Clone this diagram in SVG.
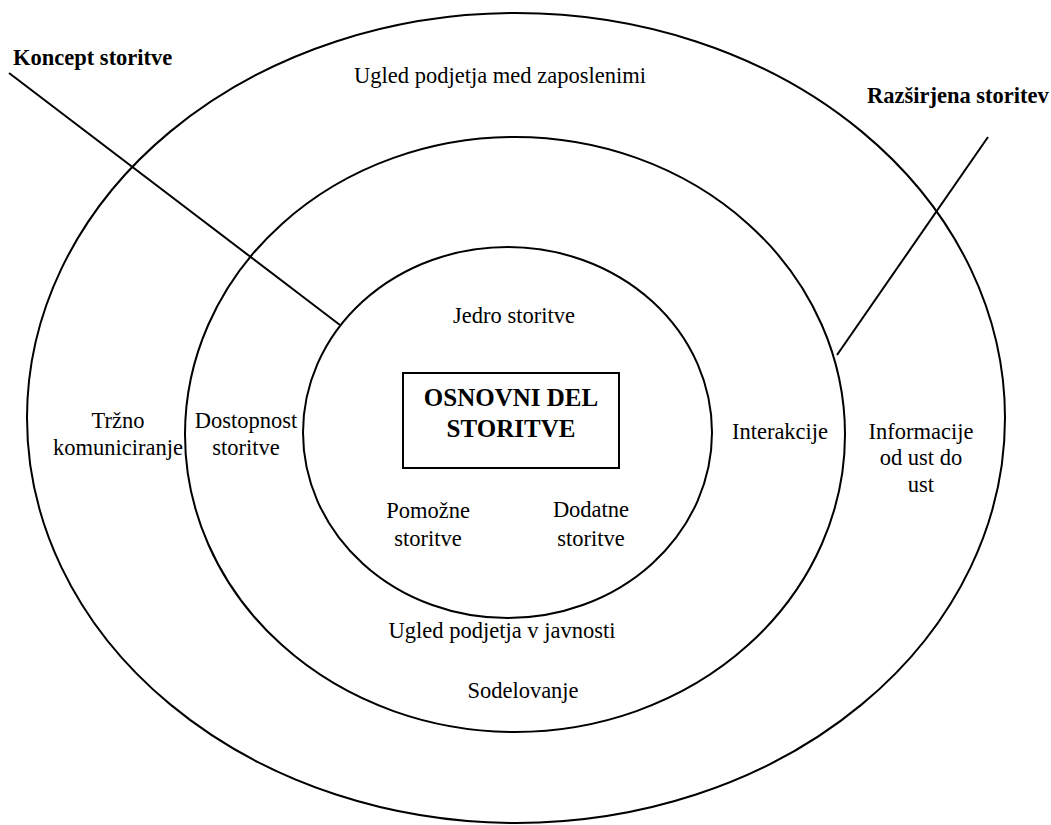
<svg xmlns="http://www.w3.org/2000/svg" width="1051" height="825" viewBox="0 0 1051 825">
<style>
.ring{fill:none;stroke:#000;stroke-width:2}
.ln{stroke:#000;stroke-width:2;fill:none}
text{font-family:"Liberation Serif","Times New Roman",serif;font-size:22.5px;fill:#000;text-anchor:middle}
.b{font-weight:bold}
.l{text-anchor:start}
</style>
<rect width="1051" height="825" fill="#fff"/>
<g id="outer-ring">
<ellipse class="ring" cx="516" cy="418" rx="489" ry="405"/>
<text x="500" y="83">Ugled podjetja med zaposlenimi</text>
<text x="118" y="428">Tržno</text>
<text x="118" y="455">komuniciranje</text>
<text x="921" y="439">Informacije</text>
<text x="921" y="465">od ust do</text>
<text x="921" y="492">ust</text>
<text x="523" y="698">Sodelovanje</text>
</g>
<g id="middle-ring">
<ellipse class="ring" cx="515" cy="434.5" rx="330" ry="297.5"/>
<text x="246" y="428">Dostopnost</text>
<text x="246" y="455">storitve</text>
<text x="780" y="439">Interakcije</text>
<text x="502" y="638">Ugled podjetja v javnosti</text>
</g>
<g id="inner-ring">
<ellipse class="ring" cx="507.5" cy="432.5" rx="204.5" ry="185.5"/>
<text x="514" y="323">Jedro storitve</text>
<text x="428" y="518">Pomožne</text>
<text x="428" y="546">storitve</text>
<text x="591" y="517">Dodatne</text>
<text x="591" y="546">storitve</text>
</g>
<g id="core">
<rect x="403" y="373" width="216" height="95" fill="#fff" stroke="#000" stroke-width="2"/>
<text class="b" x="511" y="406" style="font-size:25px">OSNOVNI DEL</text>
<text class="b" x="511" y="437" style="font-size:25px">STORITVE</text>
</g>
<g id="label-koncept">
<text class="b l" x="13" y="65">Koncept storitve</text>
</g>
<g id="label-razsirjena">
<text class="b l" x="867" y="103">Razširjena storitev</text>
</g>
<g id="connectors">
<line class="ln" x1="9" y1="73" x2="340" y2="325"/>
<line class="ln" x1="988" y1="137" x2="837" y2="355"/>
</g>
</svg>
